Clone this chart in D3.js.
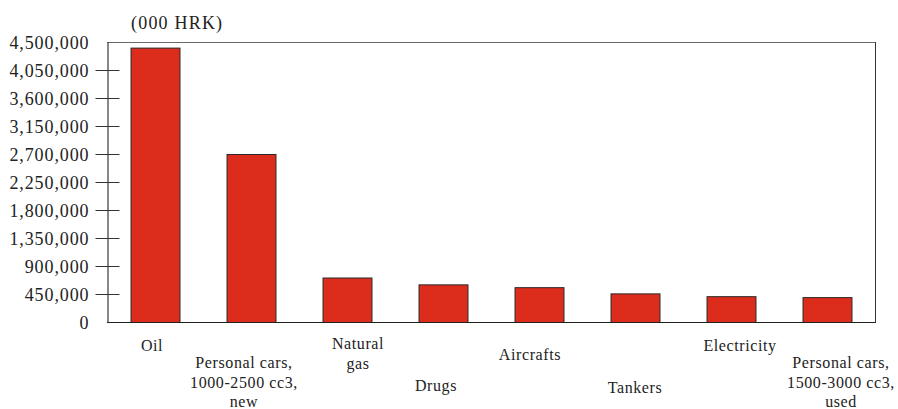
<!DOCTYPE html>
<html>
<head>
<meta charset="utf-8">
<script src="https://cdn.jsdelivr.net/npm/d3@7"></script>
<style>
  html, body { margin: 0; padding: 0; background: #fff; }
  svg { display: block; }
  text { font-family: "Liberation Serif", "Times New Roman", serif; fill: #222; }
</style>
</head>
<body>
<svg id="chart" width="898" height="409"></svg>
<script>
// Top imports by value, thousands of HRK
const categories = [
  "Oil",
  "Personal cars,\n1000-2500 cc3,\nnew",
  "Natural\ngas",
  "Drugs",
  "Aircrafts",
  "Tankers",
  "Electricity",
  "Personal cars,\n1500-3000 cc3,\nused"
];
const values = [4410000, 2700000, 715000, 605000, 560000, 460000, 415000, 400000];
const yTicks = [0, 450000, 900000, 1350000, 1800000, 2250000, 2700000, 3150000, 3600000, 4050000, 4500000];
const unitLabel = "(000 HRK)";

const svg = d3.select("#chart");
const margin = { left: 107, right: 23, top: 42, bottom: 87 };
const W = 898, H = 409;
const x0 = margin.left, x1 = W - margin.right;
const y0 = H - margin.bottom, y1 = margin.top;

const x = d3.scaleBand()
  .domain(categories)
  .range([x0, x1])
  .paddingInner(0.49)
  .paddingOuter(0.245);

const y = d3.scaleLinear().domain([0, 4500000]).range([y0, y1]);

// frame: top and right edges
svg.append("line").attr("x1", x0).attr("x2", x1).attr("y1", y1 + 0.5).attr("y2", y1 + 0.5)
  .attr("stroke", "#6a6a6a").attr("stroke-width", 1);
svg.append("line").attr("x1", x1 + 0.5).attr("x2", x1 + 0.5).attr("y1", y1).attr("y2", y0)
  .attr("stroke", "#333").attr("stroke-width", 1);

// bars
svg.append("g").selectAll("rect")
  .data(values)
  .join("rect")
  .attr("x", (d, i) => x(categories[i]) + 0.5)
  .attr("y", d => y(d) + 0.5)
  .attr("width", x.bandwidth())
  .attr("height", d => y0 - y(d))
  .attr("fill", "#dc2c1b")
  .attr("stroke", "#2a2a2a")
  .attr("stroke-width", 1);

// y axis
const yAxis = d3.axisLeft(y)
  .tickValues(yTicks)
  .tickFormat(d3.format(","))
  .tickSizeInner(12)
  .tickSizeOuter(0)
  .tickPadding(6);

const gy = svg.append("g")
  .attr("transform", `translate(${x0 + 0.5},0)`)
  .call(yAxis);
gy.select(".domain").attr("stroke", "#111");
gy.selectAll(".tick line")
  .attr("x2", d => (d === 0 || d === 4500000) ? 0 : 12)
  .attr("x1", d => (d === 0 || d === 4500000) ? 0 : -12)
  .attr("stroke", "#333");
gy.selectAll(".tick text")
  .attr("x", -18)
  .attr("dy", "0.35em")
  .style("font-size", "18px")
  .style("letter-spacing", "0.9px")
  .style("font-family", "'Liberation Serif', serif")
  .attr("fill", "#222");

// baseline
svg.append("line").attr("x1", x0).attr("x2", x1 + 1).attr("y1", y0 + 0.5).attr("y2", y0 + 0.5)
  .attr("stroke", "#222").attr("stroke-width", 1.2);

// unit label
svg.append("text")
  .attr("x", 131).attr("y", 29)
  .style("font-size", "18px")
  .style("letter-spacing", "1.2px")
  .text(unitLabel);

// category labels, staggered rows with small horizontal nudges
const labelBaseline = [351, 368, 349, 391, 360, 393, 351, 368];
const labelShift = [-3, -7, 11, -7, -9, 0, 9, 14];
const lineGap = 19.5;
const gx = svg.append("g");
categories.forEach((c, i) => {
  const cx = x(c) + x.bandwidth() / 2 + labelShift[i];
  const t = gx.append("text")
    .attr("text-anchor", "middle")
    .attr("x", cx)
    .attr("y", labelBaseline[i])
    .style("font-size", "16px")
    .style("letter-spacing", "0.6px");
  c.split("\n").forEach((line, k) => {
    t.append("tspan")
      .attr("x", cx)
      .attr("dy", k === 0 ? 0 : lineGap)
      .text(line);
  });
});
</script>
</body>
</html>
